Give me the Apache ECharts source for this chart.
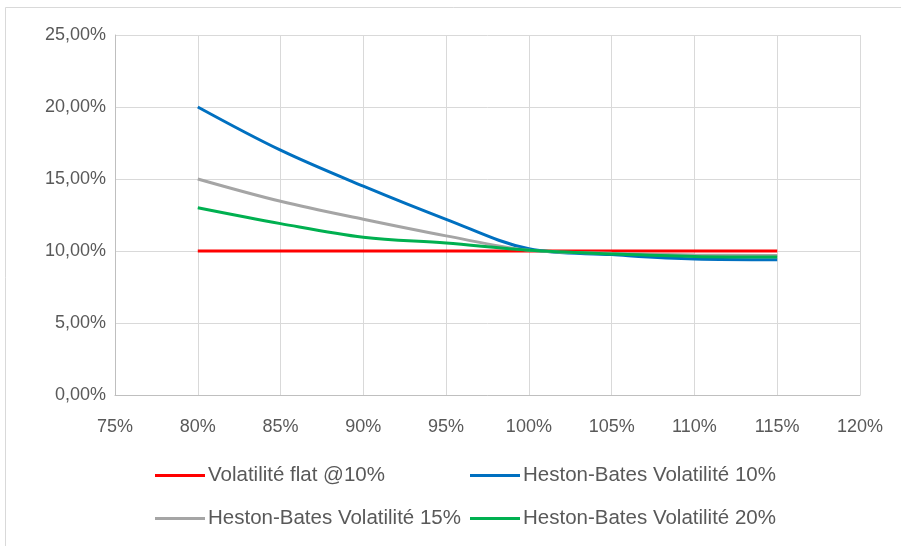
<!DOCTYPE html>
<html>
<head>
<meta charset="utf-8">
<script src="https://cdn.jsdelivr.net/npm/echarts@6/dist/echarts.min.js"></script>
<style>
  html, body { margin: 0; padding: 0; background: #ffffff; }
  #chart { width: 901px; height: 546px; }
</style>
</head>
<body>
<div id="chart"></div>
<script>
// Moneyness (strike / spot, in %)
const strikes = [80, 85, 90, 95, 100, 105, 110, 115];

// Implied volatility per model (in %)
const flatVol = [10, 10, 10, 10, 10, 10, 10, 10];
const hestonVol10 = [20.0, 17.0, 14.5, 12.2, 10.15, 9.75, 9.45, 9.4];
const hestonVol15 = [15.0, 13.45, 12.2, 11.05, 10.05, 9.85, 9.72, 9.68];
const hestonVol20 = [13.0, 11.9, 10.95, 10.55, 10.05, 9.8, 9.62, 9.58];

const seriesNames = [
  'Volatilité flat @10%',
  'Heston-Bates Volatilité 10%',
  'Heston-Bates Volatilité 15%',
  'Heston-Bates Volatilité 20%'
];
const seriesColors = ['#ff0000', '#0070c0', '#a5a5a5', '#00b050'];
const seriesValues = [flatVol, hestonVol10, hestonVol15, hestonVol20];

const FONT = '"Liberation Sans", Arial, sans-serif';
const TEXT_COLOR = '#595959';

const chart = echarts.init(document.getElementById('chart'), null, { renderer: 'canvas' });

// one legend block per entry so both columns line up
const legendPos = [
  { left: 155, top: 465 },
  { left: 470, top: 465 },
  { left: 155, top: 508 },
  { left: 470, top: 508 }
];

const option = {
  backgroundColor: '#ffffff',
  animation: false,
  graphic: [{
    type: 'rect',
    shape: { x: 5.5, y: 7.5, width: 1000, height: 1000 },
    style: { fill: 'none', stroke: '#d9d9d9', lineWidth: 1 },
    silent: true
  }],
  grid: { left: 115, right: 41, top: 35, bottom: 151 },
  legend: legendPos.map((p, i) => ({
    data: [seriesNames[i]],
    left: p.left,
    top: p.top,
    icon: 'rect',
    itemWidth: 50,
    itemHeight: 3,
    itemGap: 0,
    padding: 0,
    textStyle: { fontFamily: FONT, fontSize: 20.5, color: TEXT_COLOR, padding: [0, 0, 0, -2] }
  })),
  xAxis: {
    type: 'value',
    min: 75,
    max: 120,
    interval: 5,
    axisLine: { show: true, lineStyle: { color: '#bfbfbf', width: 1 } },
    axisTick: { show: false },
    splitLine: { show: true, lineStyle: { color: '#d9d9d9', width: 1 } },
    axisLabel: {
      margin: 23,
      fontFamily: FONT,
      fontSize: 18,
      color: TEXT_COLOR,
      formatter: v => v + '%'
    }
  },
  yAxis: {
    type: 'value',
    min: 0,
    max: 25,
    interval: 5,
    axisLine: { show: true, lineStyle: { color: '#bfbfbf', width: 1 } },
    axisTick: { show: false },
    splitLine: { show: true, lineStyle: { color: '#d9d9d9', width: 1 } },
    axisLabel: {
      margin: 9,
      fontFamily: FONT,
      fontSize: 18,
      color: TEXT_COLOR,
      formatter: v => v.toFixed(2).replace('.', ',') + '%'
    }
  },
  series: seriesNames.map((name, i) => ({
    name: name,
    type: 'line',
    data: strikes.map((k, j) => [k, seriesValues[i][j]]),
    smooth: 0.35,
    showSymbol: false,
    symbol: 'none',
    color: seriesColors[i],
    lineStyle: { color: seriesColors[i], width: 3 },
    z: i === 0 ? 1 : 2 + i
  }))
};

chart.setOption(option);
</script>
</body>
</html>
